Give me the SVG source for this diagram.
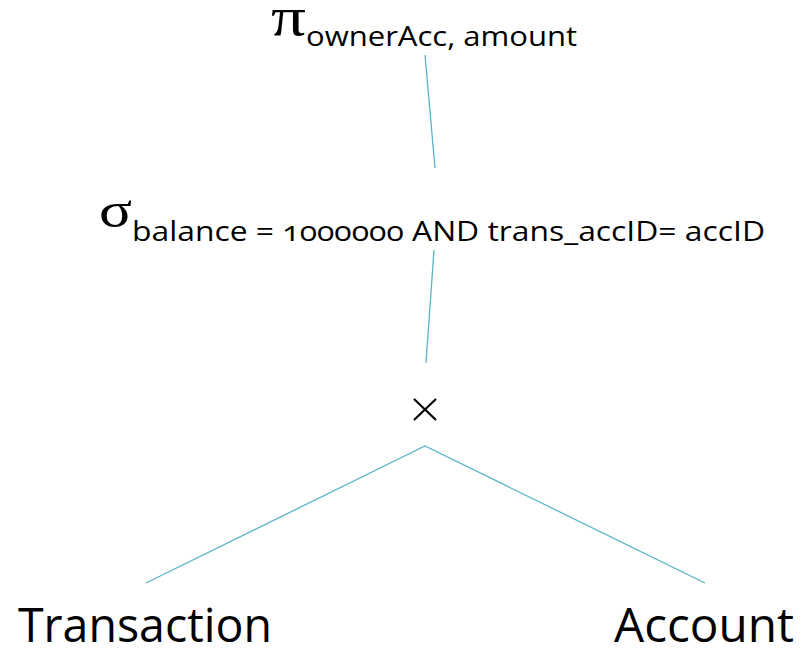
<svg xmlns="http://www.w3.org/2000/svg" width="801" height="649" viewBox="0 0 801 649">
  <style>
    .edge { stroke: #5ab4c8; stroke-width: 1.3; fill: none; }
    .greek { font-family: "Liberation Serif", "DejaVu Serif", serif; fill: #000; }
    .sub { font-family: "Open Sans", "Noto Sans", sans-serif; fill: #000; font-variant-numeric: oldstyle-nums; }
    .rel { font-family: "Open Sans", "Noto Sans", sans-serif; font-size: 47px; fill: #000; }
  </style>
  <rect width="801" height="649" fill="#fff"/>

  <g id="connectors">
    <line class="edge" x1="425" y1="55" x2="435" y2="168"/>
    <line class="edge" x1="434" y1="250" x2="426" y2="363"/>
    <polyline class="edge" points="146,583 425,446 705,583"/>
  </g>

  <g id="projection">
    <text class="greek" x="271" y="35" font-size="55" textLength="35" lengthAdjust="spacingAndGlyphs">π</text>
    <text class="sub" x="306" y="46" font-size="28" textLength="271" lengthAdjust="spacingAndGlyphs">ownerAcc, amount</text>
  </g>

  <g id="selection">
    <text class="greek" x="99" y="227" font-size="50" textLength="33" lengthAdjust="spacingAndGlyphs">σ</text>
    <text class="sub" x="132" y="241" font-size="28" textLength="633" lengthAdjust="spacingAndGlyphs">balance = 1000000 AND trans_accID= accID</text>
  </g>

  <g id="product">
    <path d="M414 399 L436 420 M436 399 L414 420" stroke="#000" stroke-width="2.2" fill="none"/>
  </g>

  <g id="transaction">
    <text class="rel" x="18" y="642" textLength="254" lengthAdjust="spacingAndGlyphs">Transaction</text>
  </g>

  <g id="account">
    <text class="rel" x="614" y="642" textLength="180" lengthAdjust="spacingAndGlyphs">Account</text>
  </g>
</svg>
